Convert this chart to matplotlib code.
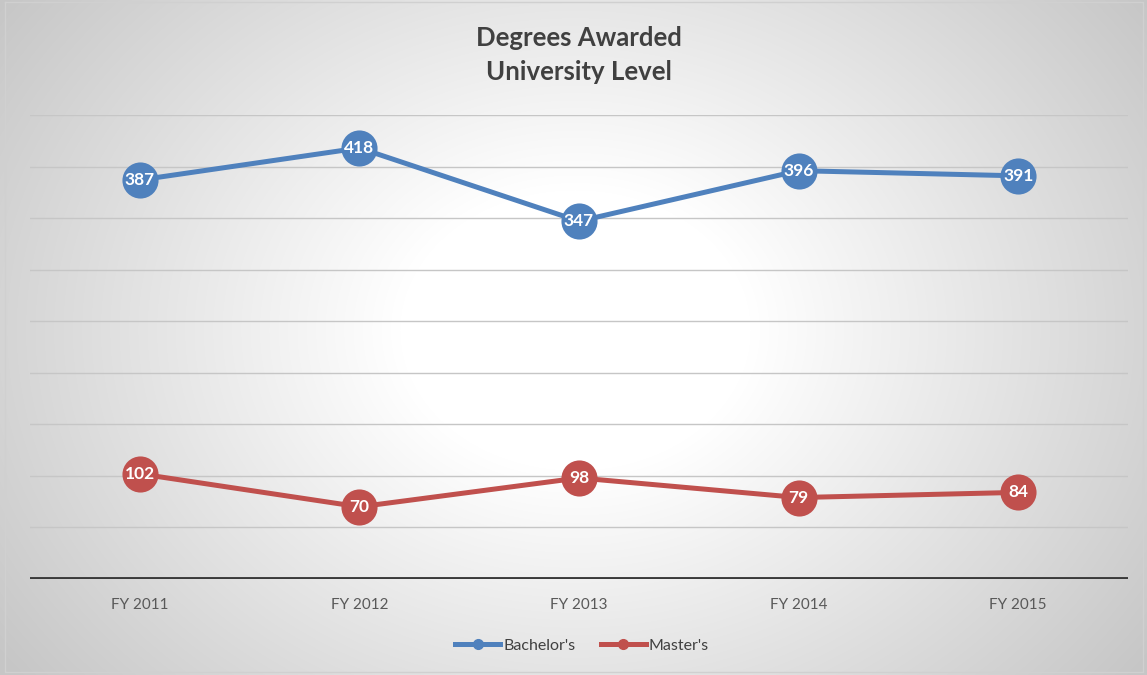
import numpy as np
import matplotlib.pyplot as plt
from matplotlib.lines import Line2D

years = ["FY 2011", "FY 2012", "FY 2013", "FY 2014", "FY 2015"]
bachelors = [387, 418, 347, 396, 391]
masters = [102, 70, 98, 79, 84]

BLUE = "#4f81bd"
RED = "#c0504d"
FONT = ["Lato", "DejaVu Sans"]

W, H = 1147, 675
fig = plt.figure(figsize=(W / 100, H / 100), dpi=100)

# radial gradient background
bg = fig.add_axes([0, 0, 1, 1], zorder=0)
yy, xx = np.mgrid[0:H, 0:W]
cx, cy = 575, 330
r = np.sqrt(((xx - cx) / 700.0) ** 2 + ((yy - cy) / 560.0) ** 2)
r = np.clip((r - 0.25) / 0.75, 0, 1)
shade = 1.0 - 0.22 * r
img = np.dstack([shade, shade, shade])
bg.imshow(img, extent=[0, W, H, 0], aspect="auto", interpolation="bilinear")
bg.plot([5, W - 4, W - 4, 5, 5], [2, 2, H - 3, H - 3, 2], color="#d0d0d0", lw=1)
bg.set_xlim(0, W)
bg.set_ylim(H, 0)
bg.axis("off")

ax = fig.add_axes([30 / W, 1 - 579 / H, (1128 - 30) / W, (579 - 115) / H], zorder=1)
ax.patch.set_alpha(0)
x = np.arange(len(years))

ax.set_xlim(-0.5, len(years) - 0.5)
ax.set_ylim(0, 450)
for v in range(50, 451, 50):
    ax.axhline(v, color="#c6c6c6", lw=1, zorder=1)
ax.axhline(0, color="#3a3a3a", lw=2.8, zorder=2)

for vals, col in [(bachelors, BLUE), (masters, RED)]:
    ax.plot(x, vals, color=col, lw=3.6, marker="o", markersize=26,
            markeredgewidth=0, solid_capstyle="round", zorder=3)
    for xi, v in zip(x, vals):
        ax.text(xi, v, str(v), color="white", fontsize=12.5, fontweight="bold",
                ha="center", va="center", family=FONT, zorder=4)

for s in ax.spines.values():
    s.set_visible(False)
ax.set_yticks([])
ax.set_xticks(x)
ax.set_xticklabels(years, family=FONT, fontsize=11, color="#595959")
ax.tick_params(axis="x", length=0, pad=14)

fig.text(579 / W, 1 - 55 / H, "Degrees Awarded\nUniversity Level", ha="center",
         va="center", fontsize=18.5, fontweight="bold", color="#404040",
         family=FONT, linespacing=1.45)

handles = [Line2D([0], [0], color=BLUE, lw=3.6, marker="o", markersize=7),
           Line2D([0], [0], color=RED, lw=3.6, marker="o", markersize=7)]
fig.legend(handles, ["Bachelor's", "Master's"], loc="center",
           bbox_to_anchor=(582 / W, 1 - 646 / H), ncol=2, frameon=False,
           prop={"family": FONT, "size": 11.5}, labelcolor="#404040",
           handlelength=2.8, handletextpad=0.2, columnspacing=1.6)

fig.savefig("out.png", dpi=100)
